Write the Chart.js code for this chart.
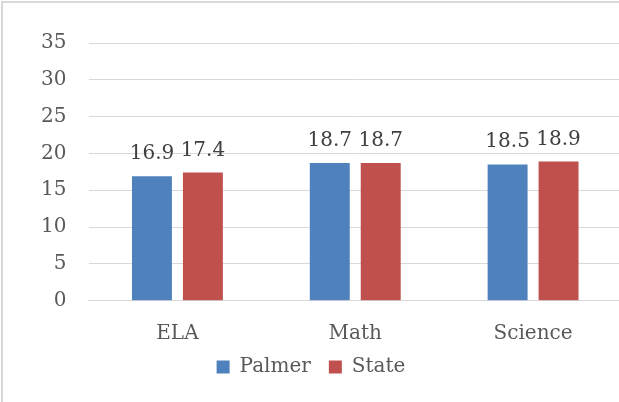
<!DOCTYPE html>
<html>
<head>
<meta charset="utf-8">
<script src="https://cdn.jsdelivr.net/npm/chart.js@4.4.0/dist/chart.umd.min.js"></script>
<style>
  html, body { margin: 0; padding: 0; background: #fff; overflow: hidden; }
  #wrap { position: relative; width: 631px; height: 402px; }
  #frame { position: absolute; left: 1px; top: 1px; width: 700px; height: 500px;
           border-left: 2px solid #d9d9d9; border-top: 2px solid #d9d9d9; pointer-events: none; }
</style>
</head>
<body>
<div id="wrap">
  <canvas id="chart" width="631" height="402"></canvas>
  <div id="frame"></div>
</div>
<script>
const categories = ["ELA", "Math", "Science"];
const palmer = [16.9, 18.7, 18.5];
const state = [17.4, 18.7, 18.9];
const yTicks = [0, 5, 10, 15, 20, 25, 30, 35];

const font = "DejaVu Serif";
const textColor = "#595959";

// draws the value above each bar
const valueLabels = {
  id: "valueLabels",
  afterDatasetsDraw(chart) {
    const ctx = chart.ctx;
    ctx.save();
    ctx.font = "20px '" + font + "'";
    ctx.fillStyle = "#404040";
    ctx.textAlign = "center";
    ctx.textBaseline = "alphabetic";
    chart.data.datasets.forEach((ds, i) => {
      chart.getDatasetMeta(i).data.forEach((bar, j) => {
        ctx.fillText(ds.data[j].toFixed(1), bar.x, bar.y - 17);
      });
    });
    ctx.restore();
  }
};

// fixed legend height so the plot bottom lands where it should,
// then pull the legend row up closer to the axis labels
const legendPlace = {
  id: "legendPlace",
  beforeInit(chart) {
    const fit = chart.legend.fit;
    chart.legend.fit = function () {
      fit.bind(chart.legend)();
      this.height = 57.3;
    };
  },
  afterLayout(chart) {
    chart.legend.top = 339;
  }
};

new Chart(document.getElementById("chart").getContext("2d"), {
  type: "bar",
  data: {
    labels: categories,
    datasets: [
      { label: "Palmer", data: palmer, backgroundColor: "#4f81bd" },
      { label: "State", data: state, backgroundColor: "#c0504d" }
    ]
  },
  options: {
    responsive: false,
    animation: false,
    categoryPercentage: 0.573,
    barPercentage: 0.784,
    layout: { padding: { top: 43, right: 9, left: 0, bottom: 0 } },
    plugins: {
      tooltip: { enabled: false },
      legend: {
        position: "bottom",
        labels: {
          boxWidth: 13,
          boxHeight: 13,
          padding: 18,
          color: textColor,
          font: { family: font, size: 20 }
        }
      }
    },
    scales: {
      x: {
        grid: { display: false },
        border: { color: "#d9d9d9", width: 1 },
        afterFit(scale) { scale.height = 44; },
        ticks: { color: textColor, font: { family: font, size: 20 }, padding: 13 }
      },
      y: {
        min: 0,
        max: 35,
        afterBuildTicks(scale) {
          scale.ticks = yTicks.map(v => ({ value: v }));
        },
        afterFit(scale) { scale.width = 88.5; },
        grid: { color: "#d9d9d9", lineWidth: 1, drawTicks: false },
        border: { display: false },
        ticks: { color: textColor, font: { family: font, size: 20 }, padding: 22 }
      }
    }
  },
  plugins: [valueLabels, legendPlace]
});
</script>
</body>
</html>
